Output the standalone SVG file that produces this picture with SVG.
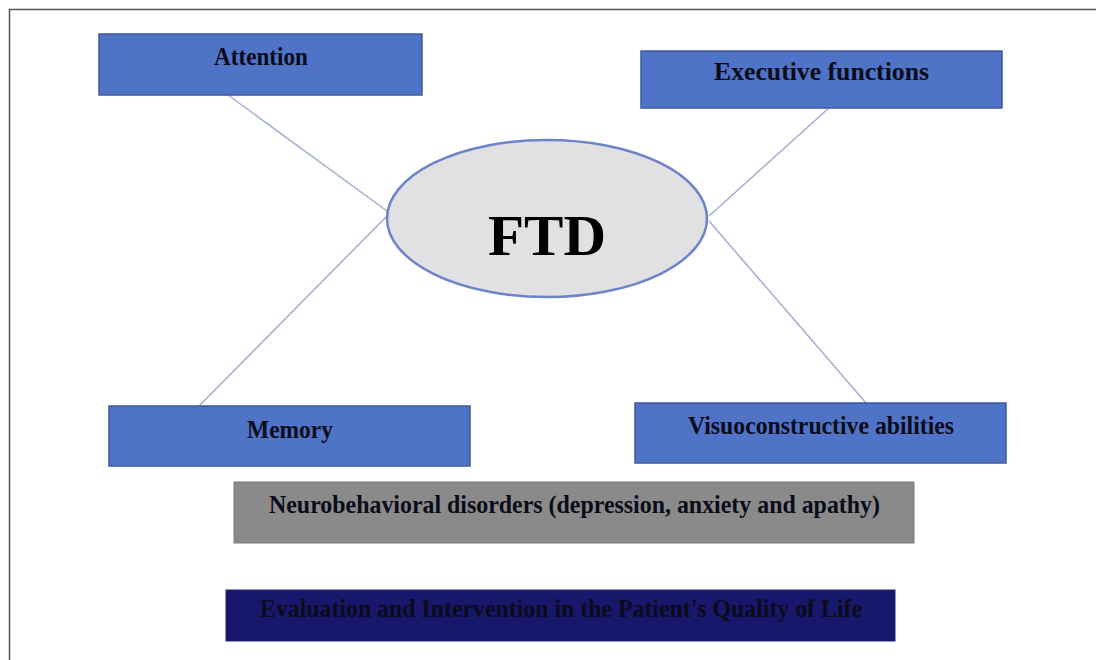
<svg xmlns="http://www.w3.org/2000/svg" width="1096" height="660" viewBox="0 0 1096 660">
<style>
.box{fill:#4f73c6;stroke:#3d5a9c;stroke-width:1.5}
.lbl{font-family:"Liberation Serif","Times New Roman",serif;font-weight:bold;font-size:26px;fill:#0b0b1a;text-anchor:middle}
.conn line{stroke:#a3afd2;stroke-width:1.5}
</style>
<rect x="0" y="0" width="1096" height="660" fill="#ffffff"/>
<rect x="9.5" y="9.5" width="1100" height="670" fill="none" stroke="#555555" stroke-width="1.5"/>
<g id="connectors" class="conn">
<line x1="228" y1="95" x2="387" y2="211"/>
<line x1="199" y1="406" x2="387" y2="216"/>
<line x1="830" y1="107" x2="709" y2="216"/>
<line x1="866" y1="403" x2="709" y2="221"/>
</g>
<g id="ftd">
<ellipse cx="547" cy="218.5" rx="160" ry="78.5" fill="#e1e1e3" stroke="#6e84c8" stroke-width="2.5"/>
<text x="547" y="255" font-family="'Liberation Serif','Times New Roman',serif" font-weight="bold" font-size="58" text-anchor="middle" fill="#000" textLength="118" lengthAdjust="spacingAndGlyphs">FTD</text>
</g>
<g id="attention">
<rect class="box" x="99" y="34" width="323" height="61"/>
<text class="lbl" x="261" y="65" textLength="94" lengthAdjust="spacingAndGlyphs">Attention</text>
</g>
<g id="executive">
<rect class="box" x="641" y="51" width="361" height="57"/>
<text class="lbl" x="821.5" y="80" textLength="215" lengthAdjust="spacingAndGlyphs">Executive functions</text>
</g>
<g id="memory">
<rect class="box" x="109" y="406" width="361" height="60"/>
<text class="lbl" x="290" y="438" textLength="86" lengthAdjust="spacingAndGlyphs">Memory</text>
</g>
<g id="visuo">
<rect class="box" x="635" y="403" width="371" height="60"/>
<text class="lbl" x="821" y="434" textLength="266" lengthAdjust="spacingAndGlyphs">Visuoconstructive abilities</text>
</g>
<g id="neuro">
<rect x="234" y="482" width="680" height="61" fill="#8a8a8a" stroke="#7a7a7a" stroke-width="1"/>
<text class="lbl" x="574.5" y="513" textLength="611" lengthAdjust="spacingAndGlyphs">Neurobehavioral disorders (depression, anxiety and apathy)</text>
</g>
<g id="evaluation">
<rect x="226" y="590" width="669" height="51" fill="#17176b" stroke="#22227a" stroke-width="1"/>
<text class="lbl" x="561" y="617" textLength="602" lengthAdjust="spacingAndGlyphs" fill="#05051a">Evaluation and Intervention in the Patient's Quality of Life</text>
</g>
</svg>
